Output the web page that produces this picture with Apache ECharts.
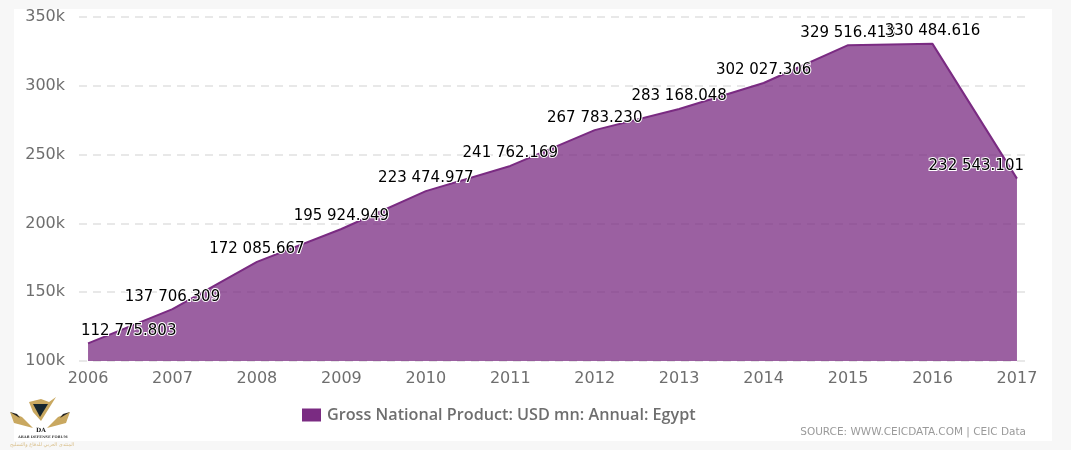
<!DOCTYPE html>
<html>
<head>
<meta charset="utf-8">
<style>
html, body { margin: 0; padding: 0; background: #f7f7f7; }
#main { width: 1071px; height: 450px; }
</style>
<script src="https://cdn.jsdelivr.net/npm/echarts@6/dist/echarts.min.js"></script>
</head>
<body>
<div id="main"></div>
<script>
const years = [2006, 2007, 2008, 2009, 2010, 2011, 2012, 2013, 2014, 2015, 2016, 2017];
const gnp = [112775.803, 137706.309, 172085.667, 195924.949, 223474.977, 241762.169,
  267783.230, 283168.048, 302027.306, 329516.413, 330484.616, 232543.101];
const seriesName = 'Gross National Product: USD mn: Annual: Egypt';
const sourceText = 'SOURCE: WWW.CEICDATA.COM | CEIC Data';

const font = '"DejaVu Sans"';
const plotLeft = 79, plotRight = 1026;

// 112775.803 -> 112 775.803
function fmt(v) {
  const parts = v.toFixed(3).split('.');
  return parts[0].replace(/\B(?=(\d{3})+$)/g, ' ') + '.' + parts[1];
}

const myChart = echarts.init(document.getElementById('main'));
myChart.setOption({
  animation: false,
  textStyle: {fontFamily: font},
  grid: {left: plotLeft, right: 1071 - plotRight, top: 17, bottom: 89},
  legend: {
    left: 297,
    top: 402,
    icon: 'rect',
    itemWidth: 19,
    itemHeight: 13,
    itemGap: 0,
    textStyle: {color: '#6e6e6e', fontSize: 16.2, fontWeight: 600, fontFamily: '"Open Sans"', padding: [0, 0, 0, 1]},
    data: [seriesName]
  },
  xAxis: {
    type: 'value',
    // plot is a little wider than the data, gridlines stick out on both sides
    min: 2006 - 0.107,
    max: 2017 + 0.107,
    splitLine: {show: false},
    axisLine: {show: false},
    axisTick: {show: false},
    axisLabel: {
      customValues: years,
      formatter: (v) => String(v),
      color: '#6e6e6e',
      fontSize: 16,
      margin: 10
    }
  },
  yAxis: {
    type: 'value',
    min: 100000,
    max: 350000,
    interval: 50000,
    axisLine: {show: false},
    axisTick: {show: false},
    axisLabel: {
      formatter: (v) => (v / 1000) + 'k',
      color: '#6e6e6e',
      fontSize: 16,
      margin: 14,
      padding: [3, 0, 0, 0]
    },
    splitLine: {lineStyle: {color: '#e8e8e8', type: [8, 6], width: 2}}
  },
  series: [{
    name: seriesName,
    type: 'line',
    data: years.map((y, i) => [y, gnp[i]]),
    // symbol 'none' would drop the labels too
    symbol: 'circle',
    symbolSize: 0,
    showAllSymbol: true,
    itemStyle: {color: '#7a2b82'},
    lineStyle: {color: '#7a2b82', width: 2},
    areaStyle: {color: '#7a2b82', opacity: 0.75, origin: 'start'},
    label: {
      show: true,
      position: 'top',
      distance: 5,
      formatter: (p) => fmt(p.value[1]),
      color: '#000',
      fontSize: 15,
      fontFamily: font,
      textBorderColor: '#fff',
      textBorderWidth: 2
    },
    // keep the labels inside the plot, first and last would hang out
    labelLayout: (p) => {
      const r = p.labelRect;
      if (r.x < plotLeft) return {dx: plotLeft + 1 - r.x};
      if (r.x + r.width > plotRight) return {dx: plotRight - 1 - r.x - r.width};
      return {};
    }
  }],
  graphic: [
    {type: 'rect', z: -10, silent: true, shape: {x: 14, y: 9, width: 1038, height: 432}, style: {fill: '#fff'}},
    {type: 'text', right: 45, top: 427, style: {text: sourceText, fill: '#9a9a9a', font: '10.5px ' + font}},
    // forum logo in the corner
    {type: 'polygon', z: 5, shape: {points: [[29, 402], [41, 399], [49, 402], [56, 397], [41, 421], [33, 412]]}, style: {fill: '#c9a860'}},
    {type: 'polygon', z: 6, shape: {points: [[33, 404], [48, 404], [40, 417]]}, style: {fill: '#16262f'}},
    {type: 'polygon', z: 5, shape: {points: [[10, 412], [22, 417], [33, 428], [14, 423]]}, style: {fill: '#c9a860'}},
    {type: 'polygon', z: 5, shape: {points: [[70, 412], [58, 417], [47, 428], [66, 423]]}, style: {fill: '#c9a860'}},
    {type: 'polygon', z: 6, shape: {points: [[10, 412], [17, 414], [20, 418]]}, style: {fill: '#222'}},
    {type: 'polygon', z: 6, shape: {points: [[70, 412], [63, 414], [60, 418]]}, style: {fill: '#222'}},
    {type: 'text', z: 5, left: 36, top: 427, style: {text: 'DA', fill: '#222', font: 'bold 6px "DejaVu Serif"'}},
    {type: 'text', z: 5, left: 18, top: 435, style: {text: 'ARAB DEFENSE FORUM', fill: '#3a3a3a', font: 'bold 3.6px "DejaVu Serif"'}},
    {type: 'text', z: 5, left: 10, top: 442, style: {text: 'المنتدى العربي للدفاع والتسليح', fill: '#d9bf8a', font: '5px "DejaVu Sans"'}}
  ]
});
</script>
</body>
</html>
